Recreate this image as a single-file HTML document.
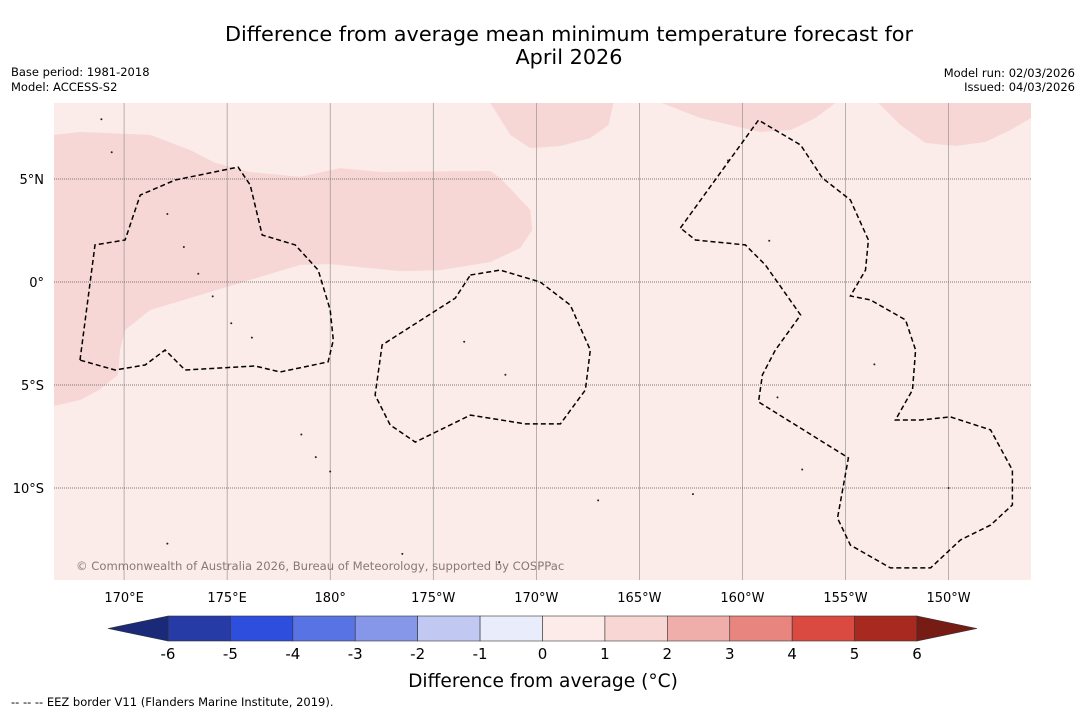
<!DOCTYPE html>
<html><head><meta charset="utf-8"><style>
body{margin:0;background:#fff;width:1085px;height:713px;overflow:hidden;font-family:"DejaVu Sans","Liberation Sans",sans-serif}
svg text{font-family:"DejaVu Sans","Liberation Sans",sans-serif}
</style></head><body>
<svg id="c" width="1085" height="713" xmlns="http://www.w3.org/2000/svg">
<text x="569" y="41" font-size="20.8" text-anchor="middle">Difference from average mean minimum temperature forecast for</text>
<text x="569" y="64" font-size="20.8" text-anchor="middle">April 2026</text>
<text x="11" y="76" font-size="11.5">Base period: 1981-2018</text>
<text x="11" y="91" font-size="11.5">Model: ACCESS-S2</text>
<text x="1075" y="77" font-size="11.5" text-anchor="end">Model run: 02/03/2026</text>
<text x="1075" y="91" font-size="11.5" text-anchor="end">Issued: 04/03/2026</text>
<g id="map"></g>
<g id="cbar"></g>
<text x="543" y="687" font-size="18.6" text-anchor="middle">Difference from average (°C)</text>
<text x="11" y="706" font-size="11.5">--  --  -- EEZ border V11 (Flanders Marine Institute, 2019).</text>
</svg>
<script>
const NS="http://www.w3.org/2000/svg";
const lonTicks=[170,175,180,185,190,195,200,205,210];
const lonLabels=["170°E","175°E","180°","175°W","170°W","165°W","160°W","155°W","150°W"];
const latTicks=[5,0,-5,-10];
const latLabels=["5°N","0°","5°S","10°S"];
const binEdges=[-6,-5,-4,-3,-2,-1,0,1,2,3,4,5,6];
const binColors=["#263ba6","#2e4ede","#5873e3","#8697ea","#c1c9f3","#e9ecfa","#fcebe9","#f7d6d3","#efaea9","#e7857e","#db4a40","#a8291f"];
const extColors=["#1b2a78","#771c15"];
const region1=[[166.6,7.14],[167.86,7.28],[171.26,7.14],[173.2,6.41],[174.42,5.78],[176.12,5.34],[178.54,5.1],[180.48,5.53],[182.43,5.34],[187.77,5.39],[188.25,5.05],[189.71,3.5],[189.8,2.52],[189.22,1.65],[187.77,0.97],[185.34,0.58],[183.4,0.53],[180,0.87],[178.54,0.83],[176.12,0.1],[173.69,-0.63],[171.26,-1.36],[170.05,-2.33],[169.8,-3.3],[169.7,-4.51],[168.8,-5.24],[167.86,-5.73],[166.6,-6.02]];
const region2=[[187.77,8.69],[188.74,7.14],[189.71,6.5],[191.17,6.6],[192.62,6.99],[193.5,7.62],[193.74,8.69]];
const region3=[[196.1,8.69],[197.96,7.96],[200.87,7.28],[202.33,7.38],[203.54,7.96],[204.51,8.69]];
const region4=[[206.6,8.69],[207.67,7.62],[208.88,6.75],[210.34,6.6],[211.8,6.8],[213,7.38],[214,7.96],[214,8.69]];
const eezA=[[167.86,-3.79],[168.59,1.8],[170.05,2.04],[170.78,4.22],[172.48,4.95],[175.53,5.58],[176.12,4.71],[176.7,2.28],[178.3,1.8],[179.42,0.58],[180,-1.36],[180.15,-2.82],[179.9,-3.88],[177.57,-4.37],[176.36,-4.08],[172.96,-4.27],[171.99,-3.3],[171.02,-4.03],[169.56,-4.27],[167.86,-3.79]];
const eezB=[[186.8,0.34],[188.25,0.58],[190.19,0],[191.65,-1.12],[192.62,-3.3],[192.38,-5.24],[191.17,-6.89],[189.47,-6.89],[186.8,-6.46],[184.13,-7.77],[182.91,-6.94],[182.18,-5.49],[182.52,-3.06],[186.07,-0.78],[186.8,0.34]];
const eezC=[[196.99,2.62],[200.78,7.86],[202.82,6.65],[203.88,5.05],[205.24,3.98],[206.11,2.04],[205.97,0.58],[205.24,-0.68],[206.21,-0.87],[207.91,-1.84],[208.4,-3.3],[208.25,-5.24],[207.42,-6.7],[208.64,-6.7],[210.09,-6.55],[212.04,-7.18],[213.1,-9.13],[213.1,-10.82],[212.04,-11.8],[210.58,-12.52],[209.13,-13.88],[207.18,-13.88],[205.24,-12.77],[204.61,-11.46],[205.14,-8.54],[200.78,-5.82],[200.97,-4.51],[201.6,-3.3],[202.82,-1.6],[201.11,0.83],[200.14,1.8],[197.72,2.04],[196.99,2.62]];
const islands=[[168.9,7.9],[169.4,6.3],[172.1,3.3],[172.9,1.7],[173.6,0.4],[174.3,-0.7],[175.2,-2.0],[176.2,-2.7],[178.6,-7.4],[179.3,-8.5],[180,-9.2],[186.5,-2.9],[188.5,-4.5],[193.0,-10.6],[197.6,-10.3],[202.9,-9.1],[201.3,2.0],[206.4,-4.0],[201.7,-5.6],[210,-10.0],[172.1,-12.7],[183.5,-13.2],[188.2,-13.6],[199.3,5.9]];
function X(lon){return 54+(lon-166.6)*(977/47.4);}
function Y(lat){return 282-lat*20.6;}
function CX(v){return 168+(v+6)*(749/12);}
const map=document.getElementById('map');
function mk(tag,attrs,parent){const e=document.createElementNS(NS,tag);for(const k in attrs)e.setAttribute(k,attrs[k]);parent.appendChild(e);return e;}
let bg=mk('rect',{x:54,y:103,width:977,height:477,fill:"#fbebe9"},map);


function pts(a){return a.map(p=>X(p[0]).toFixed(1)+","+Y(p[1]).toFixed(1)).join(" ");}
[region1,region2,region3,region4].forEach((r,i)=>{
 const e=mk('polygon',{points:pts(r),fill:"#f6d7d5"},map);
 
 
});
lonTicks.forEach((l,i)=>{
 const e=mk('line',{x1:X(l),x2:X(l),y1:103,y2:580,stroke:"#888",'stroke-width':0.6},map);
 
 
 const t=mk('text',{x:X(l),y:602,'font-size':13,'text-anchor':'middle'},map);t.textContent=lonLabels[i];
 
 
});
latTicks.forEach((l,i)=>{
 const e=mk('line',{x1:54,x2:1031,y1:Y(l),y2:Y(l),stroke:"#555",'stroke-width':0.7,'stroke-dasharray':'1,1'},map);
 
 
 const t=mk('text',{x:44,y:Y(l)+5,'font-size':13,'text-anchor':'end'},map);t.textContent=latLabels[i];
 
 
});
[eezA,eezB,eezC].forEach((r,i)=>{
 const e=mk('polyline',{points:pts(r),fill:"none",stroke:"#000",'stroke-width':1.5,'stroke-dasharray':'5,3'},map);
 
 
});
islands.forEach(p=>{
 const e=mk('circle',{cx:X(p[0]),cy:Y(p[1]),r:1,fill:"#222"},map);
 
 
});
const cr=mk('text',{x:76,y:570,'font-size':11.6,fill:"#8a7878"},map);
cr.textContent="© Commonwealth of Australia 2026, Bureau of Meteorology, supported by COSPPac";


const cb=document.getElementById('cbar');
const y0=616,y1=641;
binColors.forEach((c,i)=>{
 const e=mk('rect',{x:CX(binEdges[i]),y:y0,width:CX(binEdges[i+1])-CX(binEdges[i]),height:y1-y0,fill:c,stroke:"#333",'stroke-width':0.6},cb);
 
 
});
let l=mk('polygon',{points:`${CX(-6)},${y0} 108,${(y0+y1)/2} ${CX(-6)},${y1}`,fill:extColors[0],stroke:"#333",'stroke-width':0.6},cb);


let r=mk('polygon',{points:`${CX(6)},${y0} 977,${(y0+y1)/2} ${CX(6)},${y1}`,fill:extColors[1],stroke:"#333",'stroke-width':0.6},cb);


binEdges.forEach(v=>{
 const t=mk('text',{x:CX(v),y:659,'font-size':15,'text-anchor':'middle'},cb);t.textContent=String(v);
 
 
});
</script>
</body></html>
